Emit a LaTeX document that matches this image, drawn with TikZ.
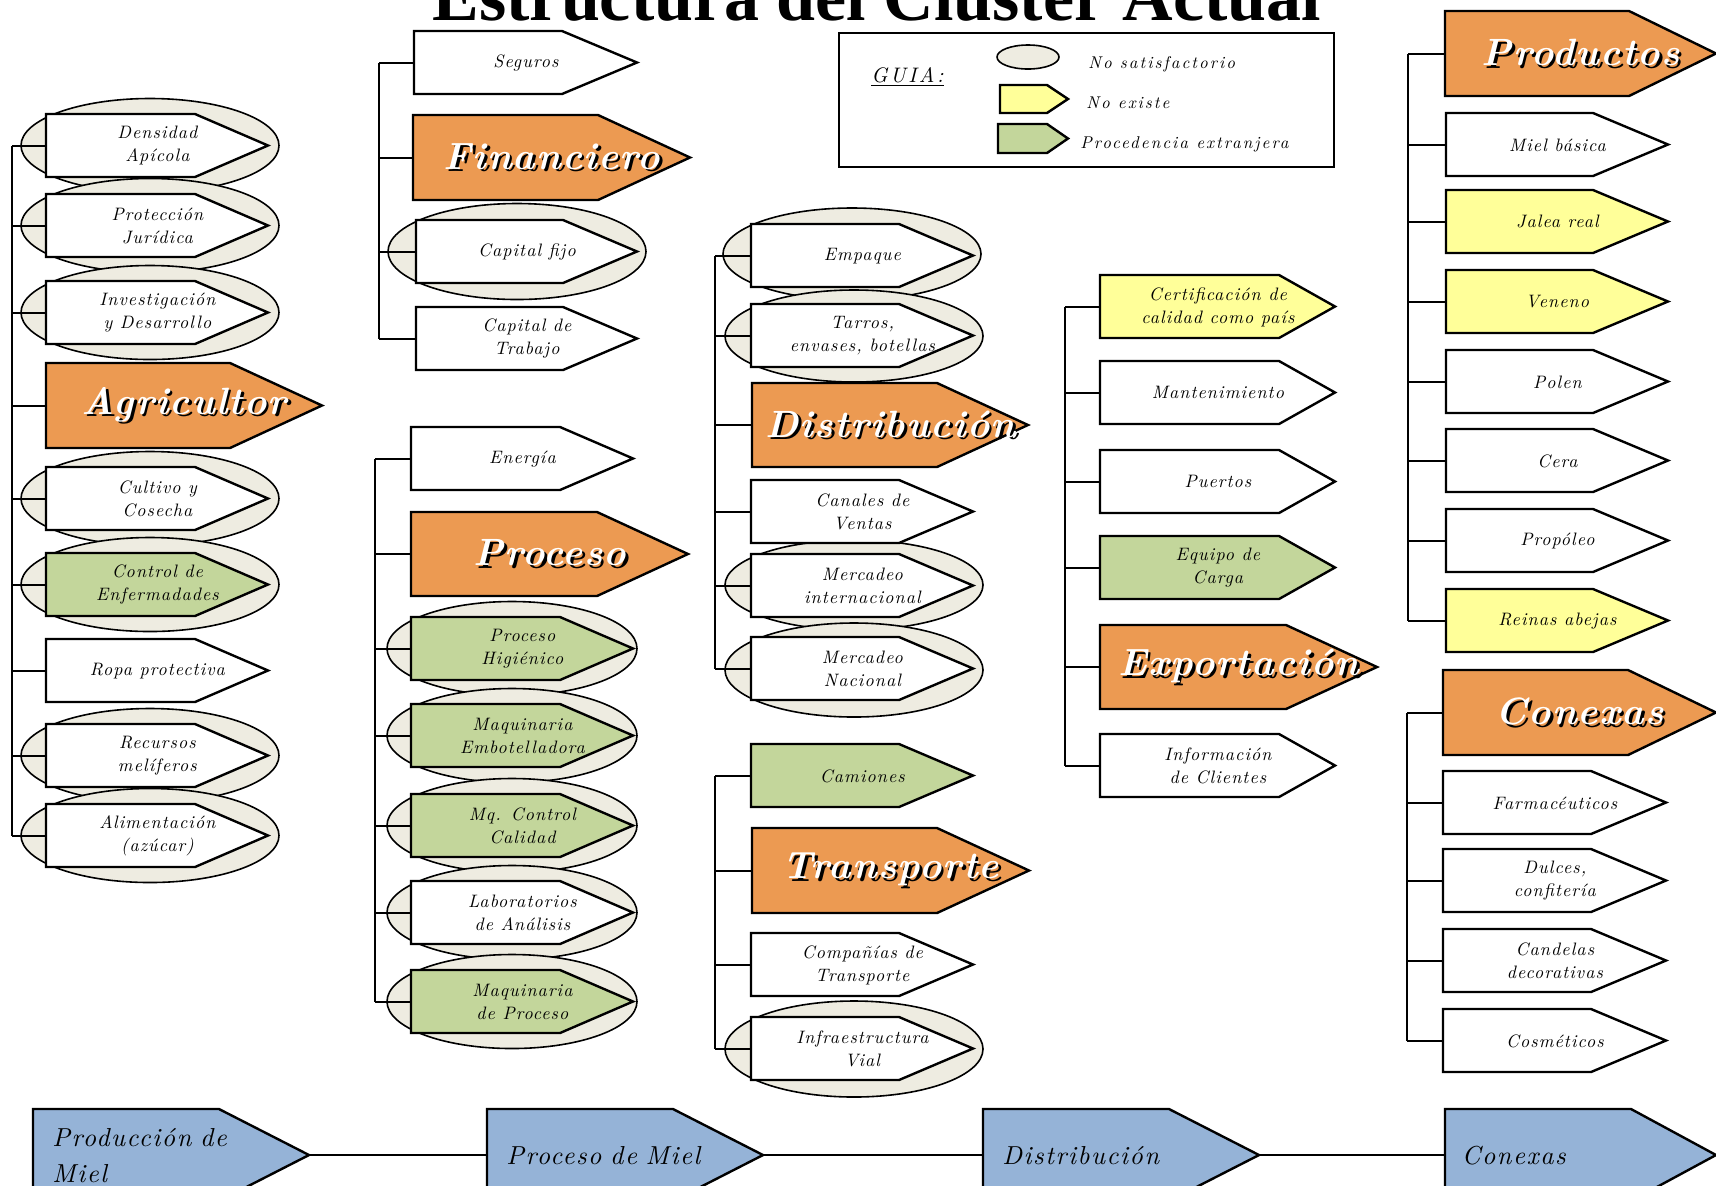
\documentclass[tikz,border=0pt]{standalone}
\usepackage{fontspec}
\setmainfont{lmroman10-regular.otf}[ItalicFont=lmroman10-italic.otf,BoldFont=lmroman10-bold.otf,BoldItalicFont=lmroman10-bolditalic.otf]
\newfontfamily\scrfam{lmroman10-italic.otf}[LetterSpace=6]
\newfontfamily\hdrfam{lmroman10-bolditalic.otf}[LetterSpace=3]
\newfontfamily\legfam{lmroman10-italic.otf}[LetterSpace=12]
\newfontfamily\titlefam{Liberation Serif}
\usetikzlibrary{shapes.geometric}
\definecolor{orng}{HTML}{EC9A52}
\definecolor{grn}{HTML}{C3D69B}
\definecolor{yel}{HTML}{FFFF99}
\definecolor{ellf}{HTML}{EEECE1}
\definecolor{blu}{HTML}{95B3D7}
\tikzset{
  boxline/.style={draw=black,line width=1.2pt,line join=miter},
  lbl/.style={inner sep=0pt,align=center,font={\scrfam\fontsize{9}{11.5}\selectfont}},
  hdr/.style={inner sep=0pt,align=center,font={\hdrfam\fontsize{19}{22}\selectfont}},
  btxt/.style={inner sep=0pt,align=left,text width=119pt,font={\scrfam\fontsize{13}{18}\selectfont}},
  legtxt/.style={inner sep=0pt,font={\legfam\fontsize{8.5}{10}\selectfont}},
  ell/.style={ellipse,draw=black,line width=0.8pt,fill=ellf,inner sep=0pt},
  conn/.style={draw=black,line width=1pt},
}
\newcommand\sh[1]{\rlap{\kern1.3pt\raisebox{-1.3pt}{\color{black}#1}}{\color{white}#1}}
% name, left, top, body, tip, height, fill, style, text
\newcommand\abox[9]{%
  \draw[boxline,fill=#7] (#2,#3) -- ++(#4,0) -- ++(#5,{#6/2}) -- ++({-#5},{#6/2}) -- ++({-#4},0) -- cycle;
  \node[#8,minimum width={(#4+#5)*0.5pt},minimum height={#6*0.5pt},anchor=north west] (#1) at (#2,#3) {#9};
}
\newcommand\ellp[5]{\node[ell,minimum width={#4*0.5pt},minimum height={#5*0.5pt}] (#1) at (#2,#3) {};}
\begin{document}
\begin{tikzpicture}[x=0.5pt,y=-0.5pt]
\useasboundingbox (0,0) rectangle (1716,1185);
\clip (0,0) rectangle (1716,1185);
\fill[white] (0,0) rectangle (1716,1185);

% title
\node[font={\titlefam\bfseries\fontsize{35}{40}\selectfont},anchor=base] (title) at (877,20) {Estructura del Cluster Actual};

% legend
\node[draw=black,line width=1.2pt,minimum width=247.5pt,minimum height=67pt,anchor=north west,inner sep=0pt] (leg) at (838,32) {};
\node[legtxt,font={\legfam\fontsize{10.5}{12}\selectfont},anchor=base west] (guia) at (871,82) {\underline{GUIA:}};
\ellp{lege}{1028}{57}{62}{24}
\abox{legy}{1000}{85}{47}{21}{28}{yel}{lbl}{}
\abox{legg}{998}{124}{49}{21}{29}{grn}{lbl}{}
\node[legtxt,anchor=base west] (lt1) at (1088,68) {No satisfactorio};
\node[legtxt,anchor=base west] (lt2) at (1086,108) {No existe};
\node[legtxt,anchor=base west] (lt3) at (1080,148) {Procedencia extranjera};

% ===== ellipses =====
\ellp{ea1}{150}{145.5}{258}{94}
\ellp{ea2}{150}{225.5}{258}{94}
\ellp{ea3}{150}{312.5}{258}{94}
\ellp{ea5}{150}{498.5}{258}{94}
\ellp{ea6}{150}{584.5}{258}{94}
\ellp{ea8}{150}{755.5}{258}{94}
\ellp{ea9}{150}{835.5}{258}{94}
\ellp{eb3}{517}{251.5}{258}{96}
\ellp{ec3}{512}{648.5}{250}{94}
\ellp{ec4}{512}{735.5}{250}{94}
\ellp{ec5}{512}{825.5}{250}{94}
\ellp{ec6}{512}{912.5}{250}{94}
\ellp{ec7}{512}{1001.5}{250}{94}
\ellp{ed1}{852}{254}{258}{92}
\ellp{ed2}{854}{336}{258}{92}
\ellp{ed5}{854}{585}{258}{90}
\ellp{ed6}{854}{670}{258}{94}
\ellp{ee4}{854}{1049}{258}{96}

% ===== column 1 : Agricultor =====
\abox{a1}{46}{114}{149}{73}{63}{white}{lbl}{Densidad\\Apícola}
\abox{a2}{46}{194}{149}{73}{63}{white}{lbl}{Protección\\Jurídica}
\abox{a3}{46}{281}{149}{73}{63}{white}{lbl}{Investigación\\y Desarrollo}
\abox{a4}{46}{363}{184}{92}{85}{orng}{hdr}{\sh{Agricultor}}
\abox{a5}{46}{467}{149}{73}{63}{white}{lbl}{Cultivo y\\Cosecha}
\abox{a6}{46}{553}{149}{73}{63}{grn}{lbl}{Control de\\Enfermadades}
\abox{a7}{46}{639}{149}{73}{63}{white}{lbl}{Ropa protectiva}
\abox{a8}{46}{724}{149}{73}{63}{white}{lbl}{Recursos\\melíferos}
\abox{a9}{46}{804}{149}{73}{63}{white}{lbl}{Alimentación\\(azúcar)}

% ===== column 2 : Financiero =====
\abox{b1}{414}{31}{148}{75}{63}{white}{lbl}{Seguros}
\abox{b2}{413}{115}{185}{92}{85}{orng}{hdr}{\sh{Financiero}}
\abox{b3}{416}{220}{147}{74}{63}{white}{lbl}{Capital fijo}
\abox{b4}{416}{307}{147}{74}{63}{white}{lbl}{Capital de\\Trabajo}

% ===== column 2b : Proceso =====
\abox{c1}{411}{427}{149}{73}{63}{white}{lbl}{Energía}
\abox{c2}{411}{512}{186}{91}{84}{orng}{hdr}{\sh{Proceso}}
\abox{c3}{411}{617}{149}{73}{63}{grn}{lbl}{Proceso\\Higiénico}
\abox{c4}{411}{704}{149}{73}{63}{grn}{lbl}{Maquinaria\\Embotelladora}
\abox{c5}{411}{794}{149}{73}{63}{grn}{lbl}{Mq. Control\\Calidad}
\abox{c6}{411}{881}{149}{73}{63}{white}{lbl}{Laboratorios\\de Análisis}
\abox{c7}{411}{970}{149}{73}{63}{grn}{lbl}{Maquinaria\\de Proceso}

% ===== column 3 : Distribucion =====
\abox{d1}{751}{224}{148}{74}{63}{white}{lbl}{Empaque}
\abox{d2}{751}{304}{148}{74}{63}{white}{lbl}{Tarros,\\envases, botellas}
\abox{d3}{752}{383}{185}{91}{84}{orng}{hdr}{\sh{Distribución}}
\abox{d4}{751}{480}{148}{74}{63}{white}{lbl}{Canales de\\Ventas}
\abox{d5}{751}{554}{148}{74}{63}{white}{lbl}{Mercadeo\\internacional}
\abox{d6}{751}{637}{148}{74}{63}{white}{lbl}{Mercadeo\\Nacional}

% ===== column 3b : Transporte =====
\abox{e1}{751}{744}{148}{74}{63}{grn}{lbl}{Camiones}
\abox{e2}{752}{828}{185}{92}{85}{orng}{hdr}{\sh{Transporte}}
\abox{e3}{751}{933}{148}{74}{63}{white}{lbl}{Compañías de\\Transporte}
\abox{e4}{751}{1017}{148}{74}{63}{white}{lbl}{Infraestructura\\Vial}

% ===== column 4 : Exportacion =====
\abox{f1}{1100}{275}{179}{56}{63}{yel}{lbl}{Certificación de\\calidad como país}
\abox{f2}{1100}{361}{179}{56}{63}{white}{lbl}{Mantenimiento}
\abox{f3}{1100}{450}{179}{56}{63}{white}{lbl}{Puertos}
\abox{f4}{1100}{536}{179}{56}{63}{grn}{lbl}{Equipo de\\Carga}
\abox{f5}{1100}{625}{186}{91}{84}{orng}{hdr}{\sh{Exportación}}
\abox{f6}{1100}{734}{179}{56}{63}{white}{lbl}{Información\\de Clientes}

% ===== column 5 : Productos =====
\abox{g1}{1445}{11}{184}{87}{85}{orng}{hdr}{\sh{Productos}}
\abox{g2}{1446}{113}{147}{75}{63}{white}{lbl}{Miel básica}
\abox{g3}{1446}{190}{147}{75}{63}{yel}{lbl}{Jalea real}
\abox{g4}{1446}{270}{147}{75}{63}{yel}{lbl}{Veneno}
\abox{g5}{1446}{350}{147}{75}{63}{white}{lbl}{Polen}
\abox{g6}{1446}{429}{147}{75}{63}{white}{lbl}{Cera}
\abox{g7}{1446}{509}{147}{75}{63}{white}{lbl}{Propóleo}
\abox{g8}{1446}{589}{147}{75}{63}{yel}{lbl}{Reinas abejas}

% ===== column 5b : Conexas =====
\abox{h1}{1443}{670}{185}{88}{85}{orng}{hdr}{\sh{Conexas}}
\abox{h2}{1443}{771}{148}{75}{63}{white}{lbl}{Farmacéuticos}
\abox{h3}{1443}{849}{148}{75}{63}{white}{lbl}{Dulces,\\confitería}
\abox{h4}{1443}{929}{148}{75}{63}{white}{lbl}{Candelas\\decorativas}
\abox{h5}{1443}{1009}{148}{75}{63}{white}{lbl}{Cosméticos}

% ===== bottom chain =====
\abox{i1}{33}{1109}{186}{90}{92}{blu}{btxt}{Producción de\\Miel}
\abox{i2}{487}{1109}{186}{90}{92}{blu}{btxt}{Proceso de Miel}
\abox{i3}{983}{1109}{186}{90}{92}{blu}{btxt}{Distribución}
\abox{i4}{1445}{1109}{186}{85}{92}{blu}{btxt}{Conexas}
\draw[conn] (i1.east) -- (i2.west);
\draw[conn] (i2.east) -- (i3.west);
\draw[conn] (i3.east) -- (i4.west);

% ===== trunks and branches =====
\coordinate (ta) at (12,0);
\coordinate (tb) at (379,0);
\coordinate (tc) at (375,0);
\coordinate (td) at (715,0);
\coordinate (tf) at (1065,0);
\coordinate (tg) at (1408,0);
\coordinate (th) at (1407,0);
\draw[conn] (a1.west -| ta) -- (a9.west -| ta);
\foreach \n in {a1,a2,a3,a4,a5,a6,a7,a8,a9} \draw[conn] (\n.west -| ta) -- (\n.west);
\draw[conn] (b1.west -| tb) -- (b4.west -| tb);
\foreach \n in {b1,b2,b3,b4} \draw[conn] (\n.west -| tb) -- (\n.west);
\draw[conn] (c1.west -| tc) -- (c7.west -| tc);
\foreach \n in {c1,c2,c3,c4,c5,c6,c7} \draw[conn] (\n.west -| tc) -- (\n.west);
\draw[conn] (d1.west -| td) -- (d6.west -| td);
\foreach \n in {d1,d2,d3,d4,d5,d6} \draw[conn] (\n.west -| td) -- (\n.west);
\draw[conn] (e1.west -| td) -- (e4.west -| td);
\foreach \n in {e1,e2,e3,e4} \draw[conn] (\n.west -| td) -- (\n.west);
\draw[conn] (f1.west -| tf) -- (f6.west -| tf);
\foreach \n in {f1,f2,f3,f4,f5,f6} \draw[conn] (\n.west -| tf) -- (\n.west);
\draw[conn] (g1.west -| tg) -- (g8.west -| tg);
\foreach \n in {g1,g2,g3,g4,g5,g6,g7,g8} \draw[conn] (\n.west -| tg) -- (\n.west);
\draw[conn] (h1.west -| th) -- (h5.west -| th);
\foreach \n in {h1,h2,h3,h4,h5} \draw[conn] (\n.west -| th) -- (\n.west);
\end{tikzpicture}
\end{document}
